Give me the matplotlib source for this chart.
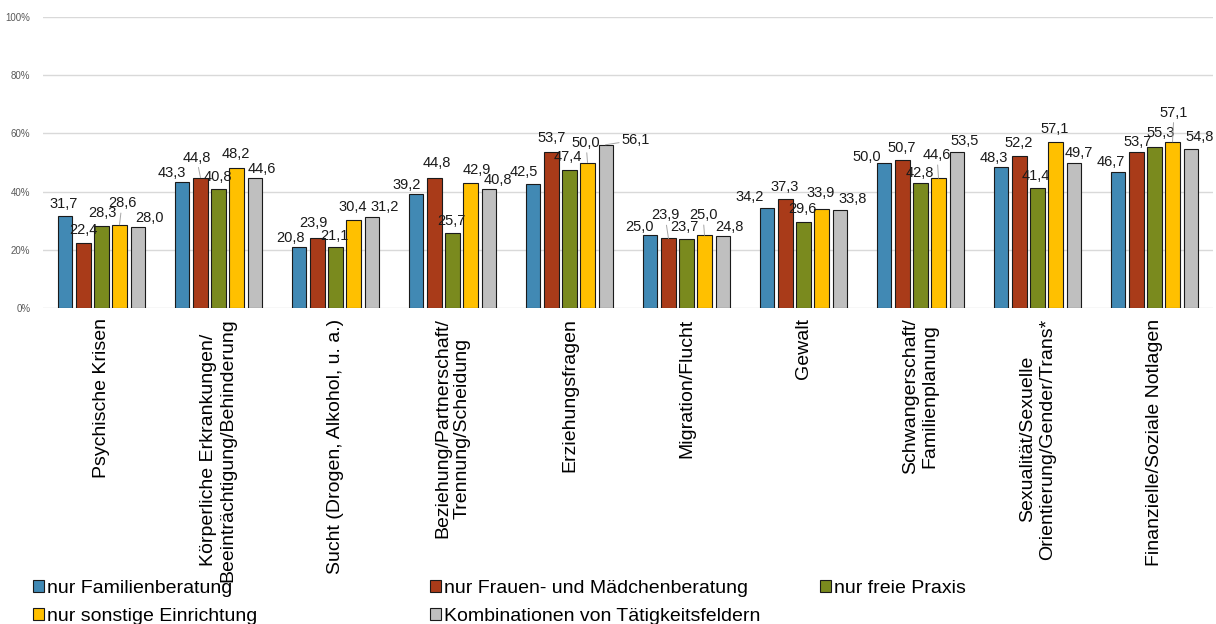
import numpy as np
import matplotlib
matplotlib.use('Agg')
import matplotlib.pyplot as plt

plt.rcParams['font.family'] = ['Liberation Sans', 'DejaVu Sans']

# Kategorien (Beratungsanliegen)
categories = [
    'Psychische Krisen',
    'Körperliche Erkrankungen/\nBeeinträchtigung/Behinderung',
    'Sucht (Drogen, Alkohol, u. a.)',
    'Beziehung/Partnerschaft/\nTrennung/Scheidung',
    'Erziehungsfragen',
    'Migration/Flucht',
    'Gewalt',
    'Schwangerschaft/\nFamilienplanung',
    'Sexualität/Sexuelle\nOrientierung/Gender/Trans*',
    'Finanzielle/Soziale Notlagen',
]

# Werte in %
familien = [31.7, 43.3, 20.8, 39.2, 42.5, 25.0, 34.2, 50.0, 48.3, 46.7]
frauen = [22.4, 44.8, 23.9, 44.8, 53.7, 23.9, 37.3, 50.7, 52.2, 53.7]
freie = [28.3, 40.8, 21.1, 25.7, 47.4, 23.7, 29.6, 42.8, 41.4, 55.3]
sonstige = [28.6, 48.2, 30.4, 42.9, 50.0, 25.0, 33.9, 44.6, 57.1, 57.1]
kombi = [28.0, 44.6, 31.2, 40.8, 56.1, 24.8, 33.8, 53.5, 49.7, 54.8]

series_names = ['nur Familienberatung', 'nur Frauen- und Mädchenberatung',
                'nur freie Praxis', 'nur sonstige Einrichtung',
                'Kombinationen von Tätigkeitsfeldern']
series = [familien, frauen, freie, sonstige, kombi]
colors = ['#4189B4', '#A93B19', '#7A8A1E', '#FFC000', '#BFBFBF']

# Verschiebung der Datenbeschriftungen (Pixel dx, dy) wie im Original, L = mit Führungslinie
label_shift = [
    [(-1.5, 12), (-10.5, 9), (-8.5, 9.5), (-9.5, 9), (-9.5, 12), (-10.5, 8), (-17.5, 11.5), (-17.5, 5.5), (-7.5, 9.5), (-7.5, 10)],
    [(0, 13), (-4, 20), (-4.5, 15.5), (2.5, 15), (0, 14), (-3.5, 23), (-0.5, 12.5), (-0.5, 12.5), (-0.5, 13), (1.5, 10)],
    [(0.5, 12.5), (-1, 12), (-1.5, 10.5), (-1.5, 12), (-1.5, 13), (-2.5, 12), (-1, 13), (-1, 10.5), (-1.5, 11.5), (6.5, 14)],
    [(2.5, 21.5), (-1, 13.5), (-1, 12.5), (6.5, 13), (-1.5, 19.5), (-1.5, 20), (-0.5, 16), (-1.5, 23), (-0.5, 12.8), (1.5, 29)],
    [(11.5, 8.5), (7.5, 9), (13.5, 10), (9.5, 9), (30.5, 4.7), (6.5, 9), (13, 10.6), (8.5, 11), (5.5, 10.4), (9.5, 11.5)],
]
leader = {(3, 0), (1, 1), (3, 4), (4, 4), (1, 5), (3, 5), (3, 7), (3, 9)}

fig = plt.figure(figsize=(12.16, 6.24), dpi=100)
ax = fig.add_axes([43 / 1216, 1 - 308 / 624, 1170 / 1216, 291 / 624])

x = np.arange(len(categories))
width = 0.12
step = 0.154
bars = []
for i, (vals, col) in enumerate(zip(series, colors)):
    pos = x + (i - 2) * step
    b = ax.bar(pos, vals, width, color=col, edgecolor='#1a1a1a', linewidth=0.8,
               zorder=3, label=series_names[i])
    bars.append(b)
    for j, v in enumerate(vals):
        dx, dy = label_shift[i][j]
        arrow = None
        if (i, j) in leader:
            arrow = dict(arrowstyle='-', color='#a6a6a6', lw=0.7, shrinkA=0, shrinkB=0)
        ax.annotate(f'{v:.1f}'.replace('.', ','), xy=(pos[j], v), xytext=(dx, dy),
                    textcoords='offset pixels', ha='center', va='center',
                    fontsize=10.5, color='#1a1a1a', arrowprops=arrow, zorder=4)

ax.set_xlim(-0.5, len(categories) - 0.5)
ax.set_ylim(0, 100)
ax.set_yticks(np.arange(0, 101, 20))
ax.set_yticklabels([f'{t}%' for t in range(0, 101, 20)], fontsize=7, color='#595959')
ax.grid(axis='y', color='#d9d9d9', linewidth=1, zorder=0)
ax.set_xticks(x)
ax.set_xticklabels(categories, rotation=90, fontsize=14, ha='center', va='top',
                   multialignment='center')
ax.tick_params(axis='x', length=0, pad=7.5)
ax.tick_params(axis='y', length=0, pad=9)
for s in ax.spines.values():
    s.set_visible(False)

# Legende in drei Spalten wie im Original
cols = [([0, 3], 33), ([1, 4], 430), ([2], 820)]
for idx, xpix in cols:
    leg = fig.legend([bars[k] for k in idx], [series_names[k] for k in idx],
                     loc='upper left', bbox_to_anchor=(xpix / 1216, 1 - 580 / 624),
                     frameon=False, fontsize=14, handlelength=0.55, handleheight=0.55,
                     handletextpad=0.15, labelspacing=0.55, borderpad=0, borderaxespad=0)

fig.savefig('out.png', dpi=100)
